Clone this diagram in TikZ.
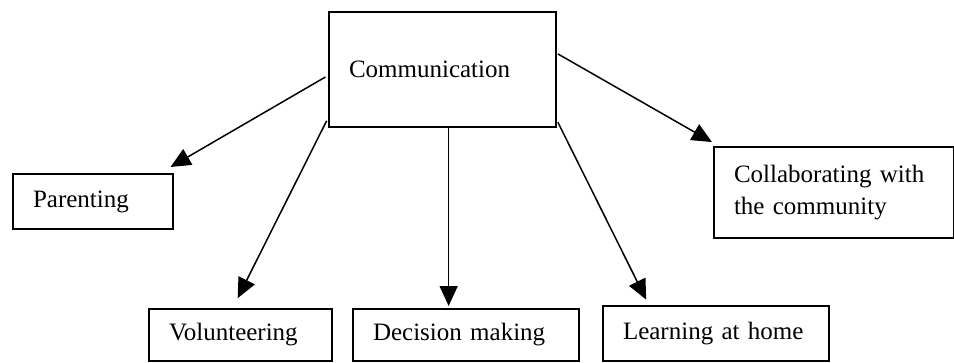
\documentclass[tikz,border=0pt]{standalone}
\usepackage{fontspec}
\setmainfont{Liberation Serif}
\usetikzlibrary{arrows.meta}

\begin{document}
\begin{tikzpicture}[x=1pt,y=-1pt,
  box/.style={draw,line width=2pt,anchor=north west,align=left,inner xsep=20pt,inner ysep=0pt,font=\fontsize{25}{32}\selectfont},
  arr/.style={line width=1.5pt,-{Triangle[length=20pt,width=18pt]}}]
\useasboundingbox (0,0) rectangle (954,362);
\node[box,minimum width=227pt,minimum height=115pt,text width=187pt] (comm) at (328,11) {Communication};
\node[box,minimum width=160pt,minimum height=55pt,text width=120pt] (par) at (12,173) {Parenting};
\node[box,minimum width=183pt,minimum height=52pt,text width=143pt] (vol) at (148,308) {Volunteering};
\node[box,minimum width=226pt,minimum height=52pt,text width=186pt] (dec) at (352,308) {Decision making};
\node[box,minimum width=226pt,minimum height=55pt,text width=186pt] (lea) at (602,305) {Learning at home};
\node[box,minimum width=240pt,minimum height=91pt,text width=200pt] (col) at (713,146) {Collaborating with\\the community};
\draw[arr,shorten <=3pt,shorten >=12pt] (comm.183) -- (par.23);
\draw[arr,shorten <=3pt,shorten >=11pt] (comm.203) -- (vol.106);
\draw[arr,shorten >=2pt] (comm.276) -- (comm.276 |- dec.north);
\draw[arr,shorten <=2pt,shorten >=6pt] (comm.336) -- (lea.157);
\draw[arr,shorten <=1pt,shorten >=8pt] (comm.8) -- (col.158);
\end{tikzpicture}
\end{document}
